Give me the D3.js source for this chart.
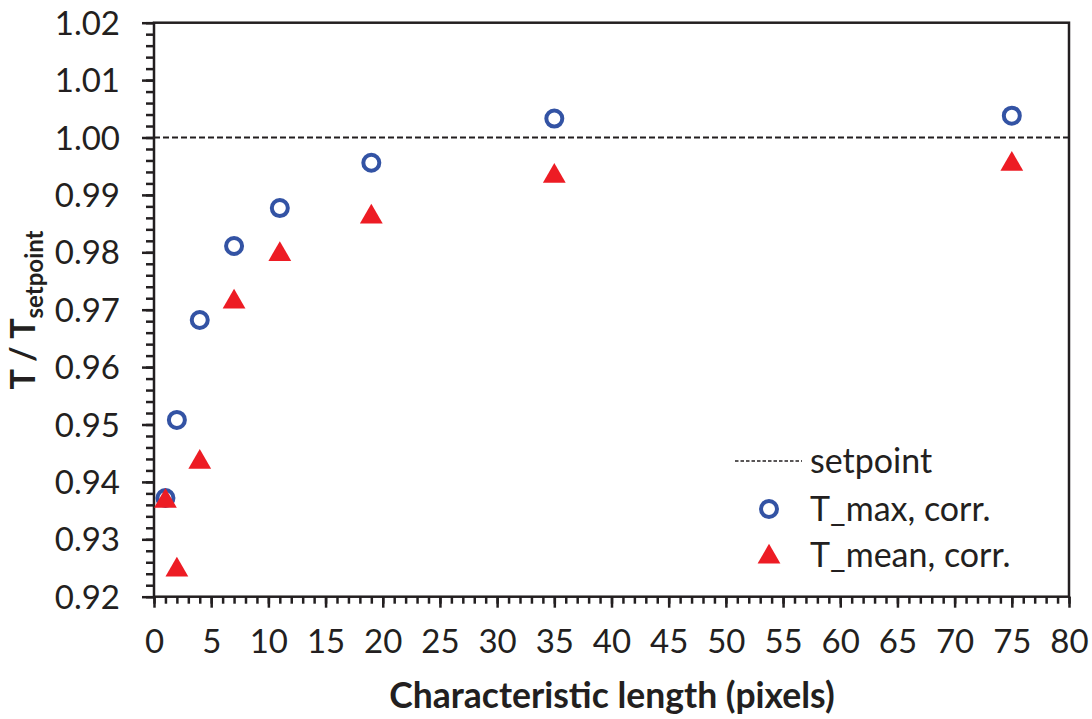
<!DOCTYPE html>
<html>
<head>
<meta charset="utf-8">
<script src="https://cdnjs.cloudflare.com/ajax/libs/d3/7.8.5/d3.min.js"></script>
<style>
  html, body { margin: 0; padding: 0; background: #fff; }
  svg { display: block; font-family: Lato, 'Open Sans', sans-serif; }
</style>
</head>
<body>
<div id="chart"></div>
<script>
// données
const lengths   = [1, 2, 4, 7, 11, 19, 35, 75];
const tMax      = [0.9372, 0.9508, 0.9682, 0.9811, 0.9877, 0.9956, 1.0033, 1.0038];
const tMean     = [0.9370, 0.9250, 0.9438, 0.9717, 0.9800, 0.9865, 0.9936, 0.9957];
const setpoint  = 1.00;
const xTicks    = d3.range(0, 81, 5);
const yTicks    = [0.92, 0.93, 0.94, 0.95, 0.96, 0.97, 0.98, 0.99, 1.00, 1.01, 1.02];
const legendTxt = ['setpoint', 'T_max, corr.', 'T_mean, corr.'];

const W = 1092, H = 719;
const M = { left: 154, right: 1069, top: 22.7, bottom: 596.7 };
const INK  = '#231f20';
const BLUE = '#3353a4';
const RED  = '#ed1c24';

const svg = d3.select('#chart').append('svg')
  .attr('width', W).attr('height', H);

const x = d3.scaleLinear().domain([0, 80]).range([M.left, M.right]);
const y = d3.scaleLinear().domain([0.92, 1.02]).range([M.bottom, M.top]);

// ─── axes ───
const yMinor = d3.range(0.92, 1.0201, 0.002).map(v => +v.toFixed(3));
const xMinor = d3.range(0, 81, 1);

function styleAxis(g) {
  g.select('.domain').remove();
  g.selectAll('.tick line').attr('stroke', INK).attr('stroke-width', 2.5);
}

svg.append('g')
  .attr('transform', `translate(${M.left},0)`)
  .call(d3.axisLeft(y).tickValues(yMinor).tickSize(8).tickFormat(''))
  .call(styleAxis);

svg.append('g')
  .attr('transform', `translate(${M.left},0)`)
  .call(d3.axisLeft(y).tickValues(yTicks).tickSize(12).tickPadding(22).tickFormat(d3.format('.2f')))
  .call(styleAxis)
  .call(g => g.selectAll('text')
    .attr('fill', INK).attr('font-size', 33).attr('dy', '0.35em')
    .attr('font-family', 'Lato, sans-serif'));

svg.append('g')
  .attr('transform', `translate(0,${M.bottom})`)
  .call(d3.axisBottom(x).tickValues(xMinor).tickSize(7).tickFormat(''))
  .call(styleAxis);

svg.append('g')
  .attr('transform', `translate(0,${M.bottom})`)
  .call(d3.axisBottom(x).tickValues(xTicks).tickSize(11).tickPadding(22).tickFormat(d3.format('d')))
  .call(styleAxis)
  .call(g => g.selectAll('text')
    .attr('fill', INK).attr('font-size', 33)
    .attr('font-family', 'Lato, sans-serif'));

// cadre
svg.append('rect')
  .attr('x', M.left).attr('y', M.top)
  .attr('width', M.right - M.left).attr('height', M.bottom - M.top)
  .attr('fill', 'none').attr('stroke', INK).attr('stroke-width', 2.5);

// ─── consigne ───
svg.append('line')
  .attr('x1', x(0)).attr('x2', x(80))
  .attr('y1', y(setpoint)).attr('y2', y(setpoint))
  .attr('stroke', INK).attr('stroke-width', 2.2).attr('stroke-dasharray', '6,3');

// ─── points (triangles par-dessus les cercles) ───
const tri = d3.symbol().type(d3.symbolTriangle).size(225);

svg.append('g').selectAll('circle')
  .data(lengths.map((l, i) => [l, tMax[i]]))
  .enter().append('circle')
  .attr('cx', d => x(d[0])).attr('cy', d => y(d[1]))
  .attr('r', 8).attr('fill', 'none')
  .attr('stroke', BLUE).attr('stroke-width', 4);

svg.append('g').selectAll('path')
  .data(lengths.map((l, i) => [l, tMean[i]]))
  .enter().append('path')
  .attr('d', tri)
  .attr('transform', d => `translate(${x(d[0])},${y(d[1]) + 2})`)
  .attr('fill', RED);

// ─── légende ───
const lg = svg.append('g').attr('font-size', 34).attr('fill', INK);
const rowY = [461, 509, 555];
lg.append('line')
  .attr('x1', 735).attr('x2', 802).attr('y1', rowY[0]).attr('y2', rowY[0])
  .attr('stroke', INK).attr('stroke-width', 1.6).attr('stroke-dasharray', '3.5,2');
lg.append('circle')
  .attr('cx', 769).attr('cy', rowY[1]).attr('r', 8)
  .attr('fill', 'none').attr('stroke', BLUE).attr('stroke-width', 4);
lg.append('path')
  .attr('d', tri).attr('transform', `translate(769,${rowY[2] + 2})`)
  .attr('fill', RED);
legendTxt.forEach((t, i) => {
  lg.append('text').attr('x', 810).attr('y', rowY[i]).attr('dy', '0.35em').text(t);
});

// ─── titres ───
svg.append('text')
  .attr('x', 612).attr('y', 708)
  .attr('text-anchor', 'middle')
  .attr('font-size', 35.5).attr('font-weight', 'bold').attr('fill', INK)
  .text('Characteristic length (pixels)');

const yt = svg.append('text')
  .attr('transform', 'translate(35,310) rotate(-90)')
  .attr('text-anchor', 'middle')
  .attr('font-size', 34).attr('font-weight', 'bold').attr('fill', INK);
yt.append('tspan').text('T / T');
yt.append('tspan').attr('font-size', 24).attr('dy', 8).text('setpoint');
</script>
</body>
</html>
